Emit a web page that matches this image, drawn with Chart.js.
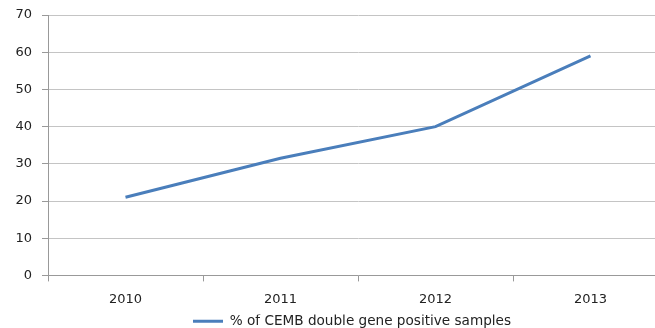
<!DOCTYPE html>
<html>
<head>
<meta charset="utf-8">
<script src="https://cdn.jsdelivr.net/npm/chart.js@4"></script>
<style>
  html, body { margin: 0; padding: 0; background: #fff; overflow: hidden; }
  #wrap { width: 668px; height: 328px; }
</style>
</head>
<body>
<div id="wrap"><canvas id="grafico"></canvas></div>
<script>
/* Datos */
const years = ["2010", "2011", "2012", "2013"];
const positivePct = [21, 31.5, 40, 59];
const seriesLabel = "% of CEMB double gene positive samples";
const yTicks = [0, 10, 20, 30, 40, 50, 60, 70];

const tickFont = { family: "DejaVu Sans", size: 13 };
const legendFont = { family: "DejaVu Sans", size: 13.6 };

/* Mover la leyenda: centrada bajo el área del gráfico y un poco más abajo */
const legendShift = {
    id: "legendShift",
    afterLayout: (chart) => {
        const lg = chart.legend;
        if (!lg) return;
        lg.left += 36;
        lg.top += 10;
        lg.bottom += 10;
    }
};

/* Gráfico */
const chartDOM = document.getElementById("grafico");

new Chart(chartDOM, {
    type: "line",
    data: {
        labels: years,
        datasets: [{
            label: seriesLabel,
            data: positivePct,
            borderColor: "#4a7ebb",
            backgroundColor: "#4a7ebb",
            borderWidth: 3,
            pointRadius: 0,
            tension: 0
        }]
    },
    plugins: [legendShift],
    options: {
        responsive: true,
        maintainAspectRatio: false,
        animation: false,
        layout: { padding: { top: 15, right: 0, bottom: 0, left: 0 } },
        plugins: {
            tooltip: { enabled: false },
            legend: {
                position: "bottom",
                labels: {
                    usePointStyle: true,
                    pointStyle: "line",
                    pointStyleWidth: 30,
                    color: "#222",
                    font: legendFont,
                    padding: 0
                }
            }
        },
        scales: {
            x: {
                offset: true,
                grid: {
                    offset: true,
                    drawOnChartArea: false,
                    drawTicks: true,
                    tickLength: 6,
                    color: "#999"
                },
                border: { color: "#999", width: 1 },
                ticks: { color: "#222", font: tickFont, padding: 10 },
                afterFit: (scale) => { scale.height = 29; }
            },
            y: {
                min: 0,
                max: 70,
                afterBuildTicks: (scale) => { scale.ticks = yTicks.map(v => ({ value: v })); },
                grid: {
                    color: "#c4c4c4",
                    tickLength: 6,
                    tickColor: "#999"
                },
                border: { color: "#999", width: 1 },
                ticks: { color: "#222", font: tickFont, padding: 10 },
                afterFit: (scale) => {
                    scale.width = 48;
                    // sin margen extra arriba: el área empieza en el padding del layout
                    scale.paddingTop = 0;
                    scale.paddingBottom = 0;
                }
            }
        }
    }
});
</script>
</body>
</html>
